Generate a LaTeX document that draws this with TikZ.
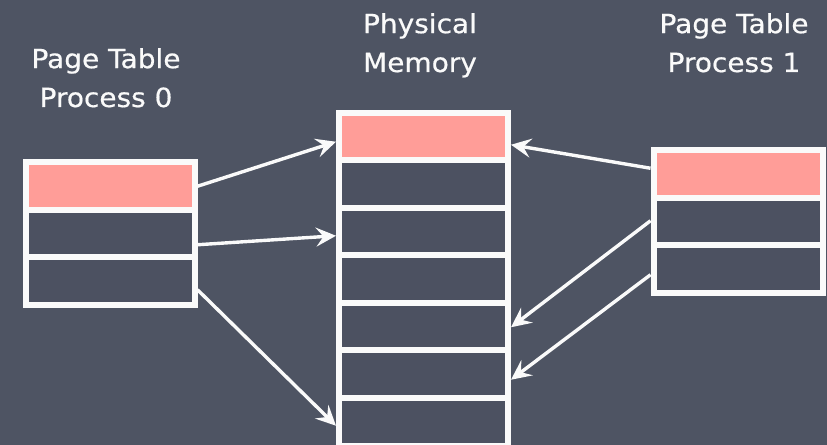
\documentclass[tikz,border=0pt]{standalone}
\usepackage{fontspec}
\newfontfamily\chalk[FakeStretch=1.06, FakeBold=0.6]{DejaVu Sans}
\usetikzlibrary{arrows.meta,calc}
\definecolor{board}{RGB}{78,84,99}
\definecolor{cellbg}{RGB}{76,81,97}
\definecolor{hot}{RGB}{255,157,152}
\definecolor{chalkwhite}{RGB}{250,250,250}
\tikzset{
  cell/.style={rectangle, draw=chalkwhite, line width=6bp, fill=cellbg,
    minimum width=169bp, minimum height=47.5bp, inner sep=0pt, anchor=north west},
  used/.style={fill=hot},
  label/.style={text=chalkwhite, font=\chalk\fontsize{26.5}{39}\selectfont,
    align=center, inner sep=0pt, anchor=base},
  map/.style={draw=chalkwhite, line width=3.4bp,
    -{Stealth[length=20bp, width=19bp, inset=7.5bp]}}
}
\begin{document}
\begin{tikzpicture}[x=1bp, y=-1bp]
  \fill[board] (0,0) rectangle (827,445);
  \useasboundingbox (0,0) rectangle (827,445);

  % page table of process 0
  \node[cell, used] (l0) at (22.5,159.5) {};
  \node[cell] (l1) at (22.5,207) {};
  \node[cell] (l2) at (22.5,254.5) {};

  % physical memory frames
  \node[cell, used] (m0) at (336,110) {};
  \node[cell] (m1) at (336,157.5) {};
  \node[cell] (m2) at (336,205) {};
  \node[cell] (m3) at (336,252.5) {};
  \node[cell] (m4) at (336,300) {};
  \node[cell] (m5) at (336,347.5) {};
  \node[cell] (m6) at (336,395) {};

  % page table of process 1
  \node[cell, used] (r0) at (650.5,147.5) {};
  \node[cell] (r1) at (650.5,195) {};
  \node[cell] (r2) at (650.5,242.5) {};

  % headings (anchored at the baseline of the second line)
  \node[label] (h0) at (106,107) {Page Table\\Process 0};
  \node[label] (hm) at (420,72) {Physical\\Memory};
  \node[label] (h1) at (734,72) {Page Table\\Process 1};

  % mappings of process 0
  \draw[map] (l0.east) -- ($(m0.west)+(0,5)$);
  \draw[map] ($(l1.east)+(0,11)$) -- ($(m2.west)+(0,4)$);
  \draw[map] ($(l2.east)+(0,8.5)$) -- ($(m6.west)+(0,4)$);

  % mappings of process 1
  \draw[map] ($(r0.west)+(0,-6)$) -- ($(m0.east)+(0,8)$);
  \draw[map] ($(r1.west)+(0,-1)$) -- ($(m4.east)+(0,0.5)$);
  \draw[map] ($(r2.west)+(0,5.5)$) -- ($(m5.east)+(0,5.5)$);
\end{tikzpicture}
\end{document}
